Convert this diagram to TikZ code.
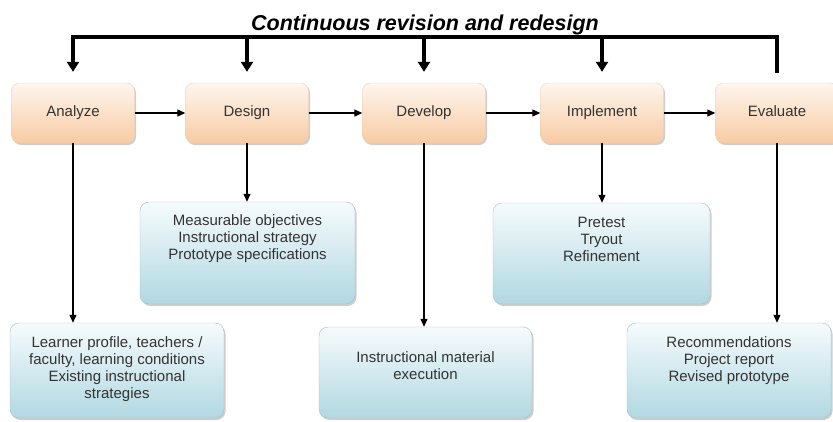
\documentclass[tikz,border=0pt]{standalone}
\usepackage{fontspec}
\setmainfont{Liberation Sans}
\usetikzlibrary{arrows.meta,shadows}
\definecolor{ink}{HTML}{333333}
\definecolor{peachtop}{HTML}{FEF6EE}
\definecolor{peach}{HTML}{F8CBA3}
\definecolor{peachline}{HTML}{E8CDB5}
\definecolor{icetop}{HTML}{F6FBFC}
\definecolor{ice}{HTML}{B1D8E2}
\definecolor{iceline}{HTML}{A2BFC7}
\newcommand{\boxlines}[4]{\parbox[c][#2pt][t]{#1pt}{\centering\vspace*{#3pt}#4}}

\begin{document}
\begin{tikzpicture}[x=1pt,y=-1pt,
  stagebox/.style={draw=peachline,rounded corners=8pt,top color=peachtop,bottom color=peach,
    drop shadow={shadow xshift=1.5pt,shadow yshift=-2pt,opacity=0.35,fill=black!55},
    minimum width=123pt,minimum height=60pt,text height=10.5pt,text depth=3.5pt,
    text=ink,font=\fontsize{15}{17}\selectfont},
  outbox/.style={draw=iceline,rounded corners=9pt,top color=icetop,bottom color=ice,
    drop shadow={shadow xshift=1.5pt,shadow yshift=-2pt,opacity=0.35,fill=black!55},
    inner sep=0pt,text=ink,font=\fontsize{15}{17}\selectfont},
  thinarrow/.style={-{Triangle[length=8pt,width=7pt]},line width=1.2pt,black},
  bigarrow/.style={-{Triangle[length=10pt,width=12pt]},line width=3.5pt,black}]
\useasboundingbox (0,0) rectangle (833,421);
\node[anchor=base,font=\fontsize{21.5}{24}\selectfont\bfseries\itshape] (title) at (425,30) {Continuous revision and redesign};
\foreach \x/\t/\id in {73/Analyze/ana,247/Design/des,424/Develop/dev,602/Implement/imp,777/Evaluate/eva}
{
  \node[stagebox] (\id) at (\x,113) {\t};
}
\foreach \a/\b in {ana/des,des/dev,dev/imp,imp/eva}{\draw[thinarrow] (\a.east)--(\b.west);}
\coordinate (rev) at (0,37);
\draw[line width=3.5pt,line cap=rect] (ana.north |- rev) -- (eva.north |- rev) -- ([yshift=12pt]eva.north);
\foreach \id in {ana,des,dev,imp}{\draw[bigarrow,shorten >=11pt] (\id.north |- rev) -- (\id.north);}
\node[outbox] (asub) at (117,370.5) {\boxlines{214}{95}{13.5}{Learner profile, teachers /\\faculty, learning conditions\\Existing instructional\\strategies}};
\node[outbox] (dsub) at (247.5,253) {\boxlines{215}{102}{12.5}{Measurable objectives\\Instructional strategy\\Prototype specifications}};
\node[outbox] (vsub) at (425.5,372.5) {\boxlines{213}{91}{24.5}{Instructional material\\execution}};
\node[outbox] (isub) at (601.5,253.5) {\boxlines{217}{101}{14}{Pretest\\Tryout\\Refinement}};
\node[outbox] (esub) at (729,370.5) {\boxlines{204}{95}{13.5}{Recommendations\\Project report\\Revised prototype}};
\foreach \a/\b in {ana/asub,des/dsub,dev/vsub,imp/isub,eva/esub}{\draw[thinarrow] (\a.south) -- (\a.south |- \b.north);}
\end{tikzpicture}
\end{document}
